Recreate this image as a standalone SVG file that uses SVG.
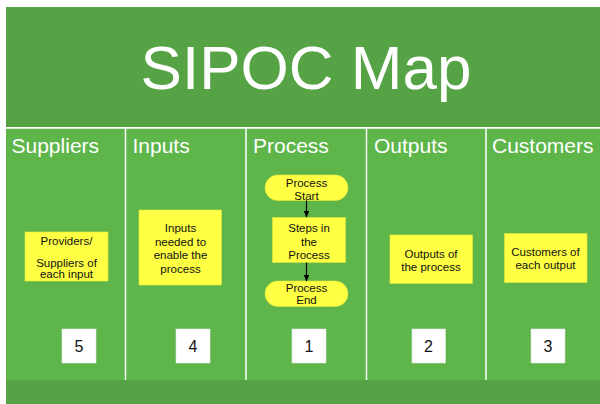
<svg xmlns="http://www.w3.org/2000/svg" width="600" height="404" viewBox="0 0 600 404">
  <defs>
    <marker id="arrow" viewBox="0 0 10 10" refX="9" refY="5" markerWidth="6" markerHeight="6" orient="auto">
      <path d="M0,1 L10,5 L0,9 z" fill="#000"/>
    </marker>
  </defs>
  <style>
    .band { fill: #56A346; }
    .lane { fill: #5EB64B; }
    .divider { stroke: #FFFFFF; stroke-width: 1.5; }
    .title { font-family: "Liberation Sans", Arial, sans-serif; font-size: 62px; fill: #FFFFFF; }
    .head { font-family: "Liberation Sans", Arial, sans-serif; font-size: 21px; fill: #FFFFFF; }
    .note { fill: #FFFF44; stroke: #E6E63C; stroke-width: 0.6; }
    .noteText { font-family: "Liberation Sans", Arial, sans-serif; font-size: 11.5px; fill: #111; text-anchor: middle; }
    .numBox { fill: #FFFFFF; stroke: #E2E2E2; stroke-width: 0.6; }
    .num { font-family: "Liberation Sans", Arial, sans-serif; font-size: 16px; fill: #111; text-anchor: middle; }
    .conn { stroke: #000; stroke-width: 1.2; fill: none; marker-end: url(#arrow); }
  </style>

  <rect width="600" height="404" fill="#FFFFFF"/>

  <!-- title band -->
  <g id="header">
    <rect class="band" x="6" y="7" width="594" height="120"/>
    <text class="title" x="306" y="89" text-anchor="middle">SIPOC Map</text>
  </g>

  <!-- swim lanes -->
  <rect class="lane" x="6" y="128.5" width="594" height="251.5"/>
  <line class="divider" x1="6" y1="127.8" x2="600" y2="127.8"/>
  <line class="divider" x1="125.5" y1="128" x2="125.5" y2="380"/>
  <line class="divider" x1="246" y1="128" x2="246" y2="380"/>
  <line class="divider" x1="366.5" y1="128" x2="366.5" y2="380"/>
  <line class="divider" x1="486" y1="128" x2="486" y2="380"/>

  <!-- footer band -->
  <rect class="band" x="6" y="380" width="594" height="24"/>

  <g id="suppliers">
    <text class="head" x="11.5" y="153">Suppliers</text>
    <rect class="note" x="25" y="232" width="83" height="49"/>
    <text class="noteText" x="66.5" y="244.5">Providers/</text>
    <text class="noteText" x="66.5" y="266.5">Suppliers  of</text>
    <text class="noteText" x="66.5" y="278">each input</text>
    <rect class="numBox" x="62" y="329" width="34" height="34"/>
    <text class="num" x="79" y="352">5</text>
  </g>

  <g id="inputs">
    <text class="head" x="132.5" y="153">Inputs</text>
    <rect class="note" x="139" y="210" width="82.5" height="75"/>
    <text class="noteText" x="180.5" y="232">Inputs</text>
    <text class="noteText" x="180.5" y="245.5">needed to</text>
    <text class="noteText" x="180.5" y="259">enable the</text>
    <text class="noteText" x="180.5" y="273">process</text>
    <rect class="numBox" x="176" y="329" width="34" height="34"/>
    <text class="num" x="193" y="352">4</text>
  </g>

  <g id="process">
    <text class="head" x="253" y="153">Process</text>
    <rect class="numBox" x="292" y="329" width="34" height="34"/>
    <text class="num" x="309" y="352">1</text>
  </g>

  <g id="process-start">
    <rect class="note" x="265" y="175" width="83" height="25.5" rx="12.75"/>
    <text class="noteText" x="306.5" y="186.5">Process</text>
    <text class="noteText" x="306.5" y="200">Start</text>
  </g>

  <g id="process-steps">
    <rect class="note" x="272.5" y="217.5" width="73" height="45"/>
    <text class="noteText" x="309" y="232">Steps in</text>
    <text class="noteText" x="309" y="245.5">the</text>
    <text class="noteText" x="309" y="259">Process</text>
  </g>

  <g id="process-end">
    <rect class="note" x="265" y="281" width="83" height="25.5" rx="12.75"/>
    <text class="noteText" x="306.5" y="292">Process</text>
    <text class="noteText" x="306.5" y="304">End</text>
  </g>

  <g id="outputs">
    <text class="head" x="374" y="153">Outputs</text>
    <rect class="note" x="390" y="235" width="82.5" height="48.5"/>
    <text class="noteText" x="431" y="258">Outputs of</text>
    <text class="noteText" x="431" y="270.5">the process</text>
    <rect class="numBox" x="412" y="329" width="33.5" height="34"/>
    <text class="num" x="428.5" y="352">2</text>
  </g>

  <g id="customers">
    <text class="head" x="492" y="153">Customers</text>
    <rect class="note" x="504.5" y="233.5" width="82.5" height="49"/>
    <text class="noteText" x="545.5" y="255.5">Customers of</text>
    <text class="noteText" x="545.5" y="269">each output</text>
    <rect class="numBox" x="531" y="329" width="34" height="34"/>
    <text class="num" x="548" y="352">3</text>
  </g>

  <g id="connectors">
    <line class="conn" x1="306.5" y1="200.5" x2="306.5" y2="217"/>
    <line class="conn" x1="306.5" y1="262.5" x2="306.5" y2="281"/>
  </g>
</svg>
